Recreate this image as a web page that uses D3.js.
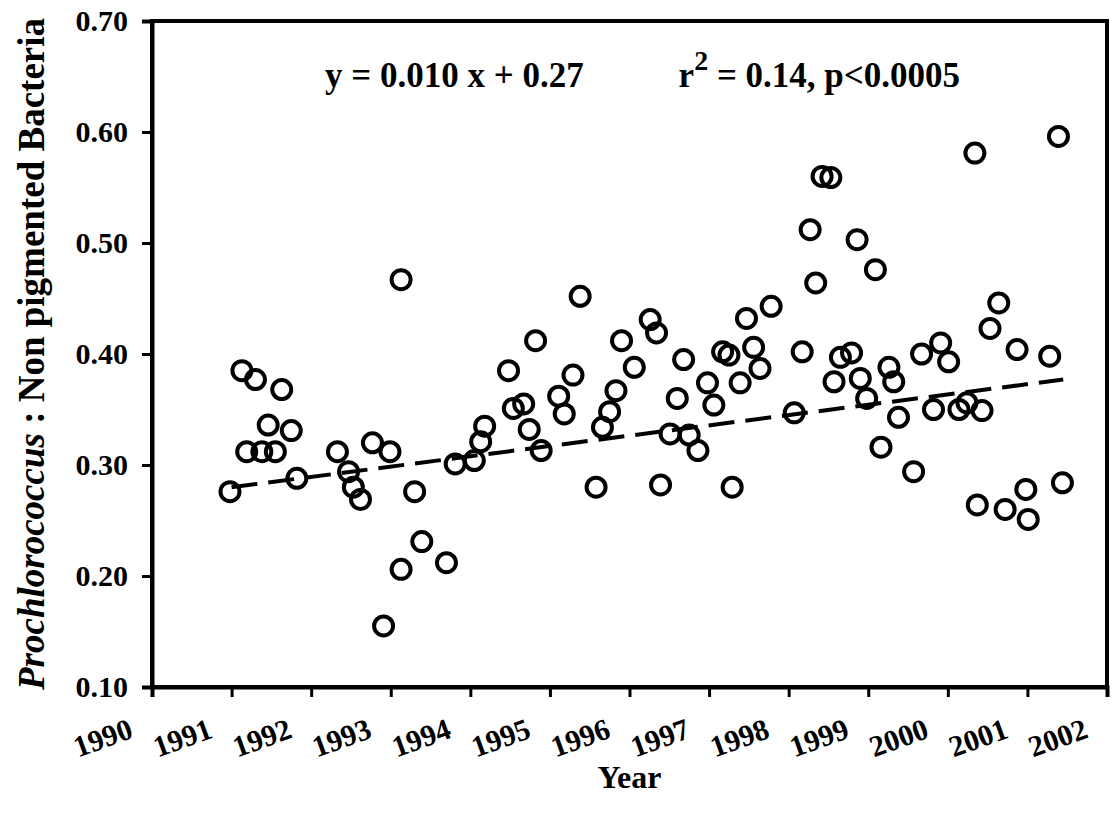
<!DOCTYPE html>
<html>
<head>
<meta charset="utf-8">
<script src="https://cdn.jsdelivr.net/npm/d3@7/dist/d3.min.js"></script>
<style>
  body { margin: 0; background: #fff; }
  svg text { font-family: "Liberation Serif", "Times New Roman", serif; font-weight: bold; fill: #000; }
</style>
</head>
<body>
<svg id="chart" width="1114" height="813"></svg>
<script>
const yearTicks = [1990, 1991, 1992, 1993, 1994, 1995, 1996, 1997, 1998, 1999, 2000, 2001, 2002];
const ratioTicks = [0.10, 0.20, 0.30, 0.40, 0.50, 0.60, 0.70];

// sampling date (decimal year) and Prochlorococcus : non pigmented bacteria ratio
const dates = [
  1990.98, 1991.13, 1991.30, 1991.63, 1991.46, 1991.75, 1991.19, 1991.38, 1991.55, 1991.82,
  1992.33, 1992.47, 1992.53, 1992.62, 1992.77, 1992.99, 1992.91, 1993.13, 1993.13, 1993.30,
  1993.39, 1993.70, 1993.81,
  1994.05, 1994.13, 1994.18, 1994.48, 1994.54, 1994.67, 1994.74, 1994.82, 1994.89,
  1995.11, 1995.18, 1995.29, 1995.38, 1995.58, 1995.66, 1995.75, 1995.83, 1995.90,
  1996.06, 1996.26, 1996.34, 1996.39, 1996.51, 1996.60, 1996.68, 1996.75, 1996.86, 1996.98,
  1997.06, 1997.17, 1997.25, 1997.29, 1997.39, 1997.47, 1997.56, 1997.64, 1997.78,
  1998.07, 1998.17, 1998.27, 1998.34, 1998.42, 1998.53, 1998.57, 1998.65, 1998.79, 1998.86,
  1998.90, 1998.98, 1999.09, 1999.16, 1999.26, 1999.32, 1999.38, 1999.57, 1999.67, 1999.82,
  1999.91, 2000.01, 2000.14, 2000.24, 2000.34, 2000.37, 2000.43, 2000.53, 2000.64, 2000.72,
  2000.87, 2000.98, 2001.01, 2001.28, 2001.39, 2001.44
];
const ratios = [
  0.276, 0.385, 0.377, 0.368, 0.336, 0.331, 0.312, 0.312, 0.312, 0.288,
  0.312, 0.294, 0.280, 0.269, 0.320, 0.312, 0.155, 0.467, 0.206, 0.276,
  0.231, 0.212, 0.301,
  0.304, 0.321, 0.335, 0.385, 0.351, 0.355, 0.332, 0.412, 0.313,
  0.362, 0.346, 0.381, 0.452, 0.280, 0.334, 0.348, 0.367, 0.412,
  0.388, 0.431, 0.419, 0.282, 0.328, 0.360, 0.395, 0.327, 0.313, 0.374,
  0.354, 0.402, 0.399, 0.280, 0.374, 0.432, 0.406, 0.387, 0.443,
  0.347, 0.402, 0.512, 0.464, 0.560, 0.559, 0.375, 0.397, 0.401, 0.503,
  0.378, 0.360, 0.476, 0.316, 0.388, 0.375, 0.343, 0.294, 0.400, 0.350,
  0.410, 0.393, 0.350, 0.356, 0.581, 0.264, 0.349, 0.423, 0.446, 0.260,
  0.404, 0.278, 0.251, 0.398, 0.596, 0.284
];

// regression line as drawn (y = 0.010 x + 0.27)
const trendDates = [1991.0, 2001.45];
const trendRatios = [0.280, 0.377];

const svg = d3.select('#chart');
const plotLeft = 152, plotRight = 1107, plotTop = 21, plotBottom = 687;

const x = d3.scaleLinear().domain([1990, 2002]).range([plotLeft, plotRight]);
const y = d3.scaleLinear().domain([0.10, 0.70]).range([plotBottom, plotTop]);

// frame
svg.append('rect')
  .attr('x', plotLeft).attr('y', plotTop)
  .attr('width', plotRight - plotLeft).attr('height', plotBottom - plotTop)
  .attr('fill', 'none')
  .attr('stroke', '#000')
  .attr('stroke-width', 4);

const yAxis = svg.append('g')
  .attr('transform', `translate(${plotLeft},0)`)
  .call(d3.axisLeft(y).tickValues(ratioTicks).tickFormat(d3.format('.2f')).tickSize(10).tickPadding(14));

const xAxis = svg.append('g')
  .attr('transform', `translate(0,${plotBottom})`)
  .call(d3.axisBottom(x).tickValues(yearTicks).tickFormat(d3.format('d')).tickSize(10));

[yAxis, xAxis].forEach(g => {
  g.select('.domain').attr('stroke-width', 4);
  g.selectAll('.tick line').attr('stroke-width', 3);
});

yAxis.selectAll('.tick text')
  .attr('font-size', 30);

xAxis.selectAll('.tick text')
  .attr('font-size', 30)
  .attr('text-anchor', 'end')
  .attr('dy', null)
  .attr('y', null)
  .attr('transform', 'translate(-18,50) rotate(-20)');

// trend line
svg.append('path')
  .datum(d3.zip(trendDates, trendRatios))
  .attr('d', d3.line().x(d => x(d[0])).y(d => y(d[1])))
  .attr('fill', 'none')
  .attr('stroke', '#000')
  .attr('stroke-width', 4)
  .attr('stroke-dasharray', '26 11');

// points
svg.append('g')
  .selectAll('circle')
  .data(d3.zip(dates, ratios))
  .join('circle')
    .attr('cx', d => x(d[0]))
    .attr('cy', d => y(d[1]))
    .attr('r', 9.5)
    .attr('fill', 'none')
    .attr('stroke', '#000')
    .attr('stroke-width', 4);

// equation
svg.append('text')
  .attr('x', 325).attr('y', 87)
  .attr('font-size', 35)
  .text('y = 0.010 x + 0.27');

const stats = svg.append('text')
  .attr('x', 960).attr('y', 87)
  .attr('text-anchor', 'end')
  .attr('font-size', 35);
stats.append('tspan').text('r');
stats.append('tspan').attr('font-size', 28).attr('dy', -17).text('2');
stats.append('tspan').attr('dy', 17).text(' = 0.14, p<0.0005');

// axis titles
svg.append('text')
  .attr('x', x(1996)).attr('y', 788)
  .attr('text-anchor', 'middle')
  .attr('font-size', 32)
  .text('Year');

const yTitle = svg.append('text')
  .attr('transform', 'translate(44,354) rotate(-90)')
  .attr('text-anchor', 'middle')
  .attr('font-size', 37);
yTitle.append('tspan').attr('font-style', 'italic').text('Prochlorococcus');
yTitle.append('tspan').text(' : Non pigmented Bacteria');
</script>
</body>
</html>
